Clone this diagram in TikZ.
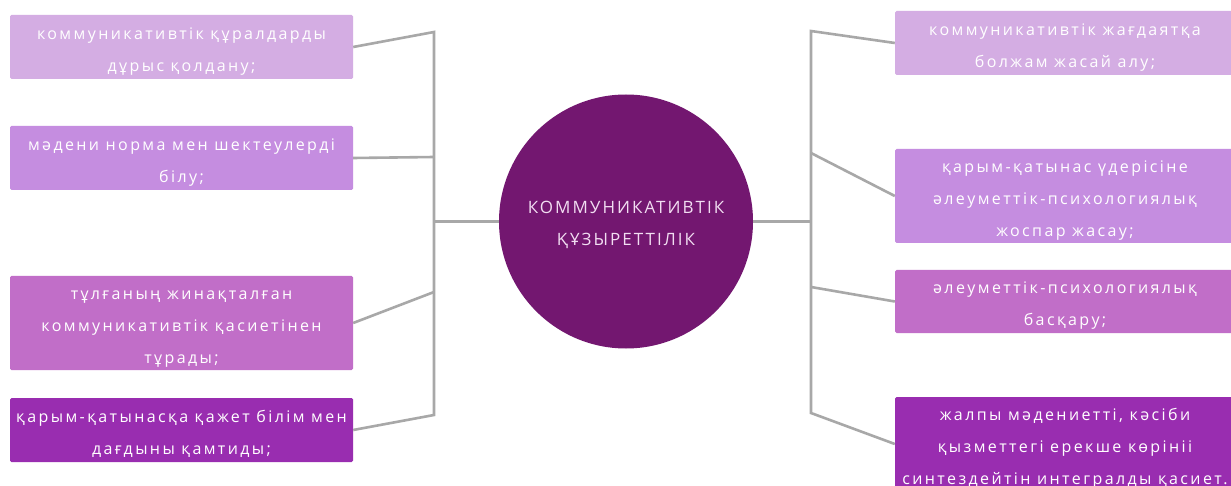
\documentclass[tikz,border=0pt]{standalone}
\usepackage{fontspec}
\setmainfont{Open Sans}[LetterSpace=15]
\newfontfamily\hubfont{Open Sans}[LetterSpace=12]
\definecolor{tintA}{RGB}{212,173,227}
\definecolor{tintB}{RGB}{197,141,224}
\definecolor{tintC}{RGB}{193,110,200}
\definecolor{tintD}{RGB}{153,45,176}
\definecolor{hubfill}{RGB}{115,23,112}
\definecolor{wire}{RGB}{168,168,168}
\definecolor{hubtext}{RGB}{242,222,242}
% taller first line so the text block sits a little lower in its card
\newcommand\cardlift{\rule{0pt}{20pt}}
\tikzset{
  card/.style={rectangle, rounded corners=1.5pt, inner sep=0pt, text=white,
    minimum width=343pt, align=center,
    font=\fontsize{16}{32}\selectfont},
  rcard/.style={card, minimum width=340pt},
  link/.style={draw=wire, line width=2.6pt, line join=miter},
}
\begin{document}
\begin{tikzpicture}[x=1pt, y=-1pt]
\useasboundingbox[fill=white] (0,0) rectangle (1231,486);

% central hub
\node[circle, fill=hubfill, minimum size=254pt, inner sep=0pt, text=hubtext,
  align=center, font=\hubfont\fontsize{17}{32}\selectfont] (hub) at (626,221.5)
  {\cardlift КОММУНИКАТИВТІК\\ҚҰЗЫРЕТТІЛІК};

% left column
\node[card, fill=tintA, minimum height=64pt] (l1) at (181.5,47)
  {\cardlift коммуникативтік құралдарды\\дұрыс қолдану;};
\node[card, fill=tintB, minimum height=64pt] (l2) at (181.5,158)
  {\cardlift мәдени норма мен шектеулерді\\білу;};
\node[card, fill=tintC, minimum height=94pt] (l3) at (181.5,323)
  {\cardlift тұлғаның жинақталған\\коммуникативтік қасиетінен\\тұрады;};
\node[card, fill=tintD, minimum height=64pt] (l4) at (181.5,430)
  {\cardlift қарым-қатынасқа қажет білім мен\\дағдыны қамтиды;};

% right column
\node[rcard, fill=tintA, minimum height=64pt] (r1) at (1065,43)
  {\cardlift коммуникативтік жағдаятқа\\болжам жасай алу;};
\node[rcard, fill=tintB, minimum height=94pt] (r2) at (1065,196)
  {\cardlift қарым-қатынас үдерісіне\\әлеуметтік-психологиялық\\жоспар жасау;};
\node[rcard, fill=tintC, minimum height=63pt] (r3) at (1065,301.5)
  {\cardlift әлеуметтік-психологиялық\\басқару;};
\node[rcard, fill=tintD, minimum height=94pt] (r4) at (1065,444)
  {\cardlift жалпы мәдениетті, кәсіби\\қызметтегі ерекше көрініі\\синтездейтін интегралды қасиет.};

% bus bars
\coordinate (lt) at (434,32);
\coordinate (lb) at (434,415);
\coordinate (lm) at (434,221.5);
\coordinate (l2b) at (434,157);
\coordinate (l3b) at (434,292);
\coordinate (rt) at (811,31);
\coordinate (rb) at (811,413);
\coordinate (rm) at (811,221.5);
\coordinate (r2b) at (811,153);
\coordinate (r3b) at (811,287);

\draw[link] (l1.east) -- (lt) -- (lb) -- (l4.east);
\draw[link] (l2.east) -- (l2b);
\draw[link] (l3.east) -- (l3b);
\draw[link] (hub.west) -- (lm);
\draw[link] (r1.west) -- (rt) -- (rb) -- (r4.west);
\draw[link] (r2.west) -- (r2b);
\draw[link] (r3.west) -- (r3b);
\draw[link] (hub.east) -- (rm);
\end{tikzpicture}
\end{document}
